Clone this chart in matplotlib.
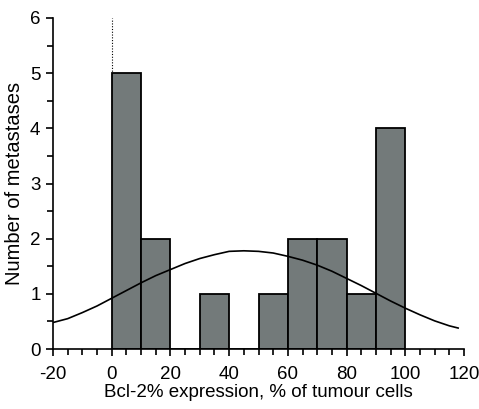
import matplotlib
matplotlib.use("Agg")
import matplotlib.pyplot as plt
from matplotlib.ticker import MultipleLocator

# histogram bins (left edges, width 10) and counts
bin_left = [0, 10, 20, 30, 40, 50, 60, 70, 80, 90]
counts = [5, 2, 0, 1, 0, 1, 2, 2, 1, 4]

# fitted normal curve
curve_x = [-20, -15, -10, -5, 0, 5, 10, 15, 20, 25, 30, 35, 40, 45, 50, 55,
           60, 65, 70, 75, 80, 85, 90, 95, 100, 105, 110, 115, 118]
curve_y = [0.48, 0.55, 0.66, 0.78, 0.92, 1.06, 1.20, 1.33, 1.44, 1.55, 1.64,
           1.71, 1.77, 1.78, 1.77, 1.74, 1.68, 1.61, 1.52, 1.41, 1.28, 1.15,
           1.01, 0.87, 0.74, 0.62, 0.51, 0.42, 0.38]

xticks = [-20, 0, 20, 40, 60, 80, 100, 120]
yticks = [0, 1, 2, 3, 4, 5, 6]

plt.rcParams['font.family'] = ['Liberation Sans', 'DejaVu Sans']
plt.rcParams['axes.unicode_minus'] = False

fig = plt.figure(figsize=(4.79, 4.09), dpi=100)
ax = fig.add_axes([53/479, 60/409, 411/479, 331/409])

ax.bar(bin_left, counts, width=10, align='edge', color='#737a7a',
       edgecolor='black', linewidth=1.3, zorder=2)
ax.plot(curve_x, curve_y, color='black', linewidth=1.2, zorder=3)
ax.plot([0, 0], [0, 6], color='black', linestyle=(0, (1, 1.5)),
        linewidth=0.8, zorder=1)

ax.set_xlim(-20, 120)
ax.set_ylim(0, 6)
ax.set_xticks(xticks)
ax.set_yticks(yticks)
ax.xaxis.set_minor_locator(MultipleLocator(5))
ax.yaxis.set_minor_locator(MultipleLocator(0.5))
ax.tick_params(which='major', direction='out', length=5, width=1.2,
               labelsize=13.5)
ax.tick_params(axis='x', which='major', pad=7)
ax.tick_params(axis='y', which='major', pad=4)
ax.tick_params(which='minor', direction='out', length=4, width=1.2)
ax.spines['top'].set_visible(False)
ax.spines['right'].set_visible(False)
ax.spines['left'].set_linewidth(1.2)
ax.spines['bottom'].set_linewidth(1.2)

ax.set_xlabel('Bcl-2% expression, % of tumour cells', fontsize=13.5, labelpad=1)
ax.set_ylabel('Number of metastases', fontsize=14.5, labelpad=4)

fig.savefig('out.png', dpi=100)
